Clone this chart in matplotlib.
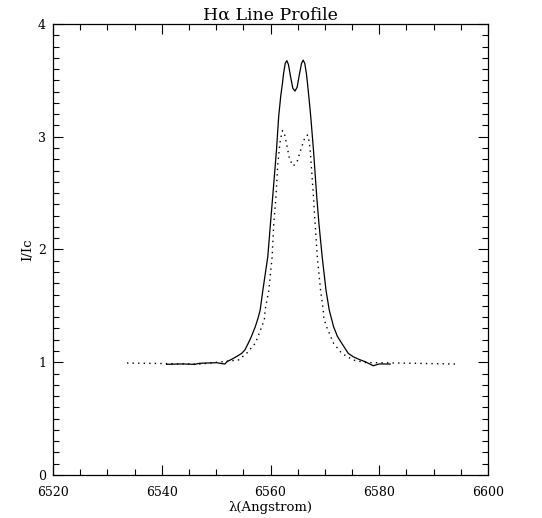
import matplotlib
matplotlib.use("Agg")
import matplotlib.pyplot as plt
from matplotlib.ticker import MultipleLocator

# observed profile (solid)
wave_obs = [6540.9, 6544.0, 6546.0, 6547.0, 6550.1, 6551.6, 6552.0, 6553.0,
            6553.7, 6554.7, 6555.3, 6555.9, 6556.5, 6557.2, 6557.7, 6558.1,
            6558.6, 6559.5, 6560.0, 6560.4, 6561.1, 6561.5, 6561.9, 6562.2,
            6562.4, 6562.7, 6563.0, 6563.3, 6563.7, 6564.1, 6564.5, 6564.9,
            6565.3, 6565.7, 6566.0, 6566.3, 6566.6, 6566.8, 6567.1, 6567.4,
            6567.9, 6568.5, 6568.9, 6569.5, 6570.2, 6570.8, 6571.6, 6572.3,
            6573.1, 6574.3, 6575.2, 6576.3, 6577.4, 6578.9, 6580.0, 6582.0]
flux_obs = [0.982, 0.985, 0.981, 0.991, 0.996, 0.984, 1.005, 1.030,
            1.049, 1.079, 1.110, 1.168, 1.230, 1.315, 1.390, 1.463,
            1.641, 1.936, 2.235, 2.468, 2.882, 3.178, 3.370, 3.474,
            3.560, 3.650, 3.675, 3.640, 3.530, 3.430, 3.405, 3.440,
            3.550, 3.650, 3.680, 3.650, 3.560, 3.474, 3.330, 3.178,
            2.882, 2.468, 2.232, 1.936, 1.641, 1.463, 1.315, 1.230,
            1.168, 1.079, 1.049, 1.025, 1.005, 0.969, 0.985, 0.984]

# model profile (dotted)
wave_mod = [6533.6, 6547.0, 6554.1, 6555.6, 6557.2, 6558.4, 6558.9, 6559.0,
            6559.7, 6560.3, 6560.6, 6561.0, 6561.3, 6561.6, 6561.8, 6562.2,
            6562.5, 6562.9, 6563.5, 6564.2, 6564.9, 6565.6, 6566.3, 6566.8,
            6567.1, 6567.3, 6567.9, 6568.2, 6568.6, 6569.2, 6569.7, 6569.8,
            6570.3, 6571.6, 6573.1, 6575.2, 6577.4, 6594.5]
flux_mod = [0.993, 0.984, 1.020, 1.079, 1.168, 1.315, 1.390, 1.463,
            1.641, 1.936, 2.232, 2.468, 2.734, 2.882, 2.970, 3.054,
            3.040, 2.950, 2.800, 2.741, 2.780, 2.890, 2.990, 3.016,
            2.960, 2.882, 2.468, 2.232, 1.936, 1.641, 1.463, 1.390,
            1.315, 1.168, 1.079, 1.020, 0.998, 0.984]

plt.rcParams['font.family'] = ['DejaVu Serif']

fig = plt.figure(figsize=(5.42, 5.18), dpi=100)
ax = fig.add_axes([0.0978, 0.083, 0.8026, 0.8707])

ax.plot(wave_obs, flux_obs, color='black', linewidth=0.9)
ax.plot(wave_mod, flux_mod, color='black', linewidth=1.0, linestyle=(0, (1, 3)))

ax.set_xlim(6520, 6600)
ax.set_ylim(0, 4)
ax.xaxis.set_major_locator(MultipleLocator(20))
ax.xaxis.set_minor_locator(MultipleLocator(5))
ax.yaxis.set_major_locator(MultipleLocator(1))
ax.yaxis.set_minor_locator(MultipleLocator(0.1))
ax.tick_params(which='both', direction='in', top=True, right=True,
               width=0.8, labelsize=9)
ax.tick_params(which='major', length=7)
ax.tick_params(which='minor', length=4)
ax.tick_params(axis='x', which='major', pad=8)
ax.tick_params(axis='y', which='major', pad=5)
for s in ax.spines.values():
    s.set_linewidth(0.9)

ax.set_title("H\u03b1 Line Profile", fontsize=12.5, pad=2)
ax.set_xlabel("\u03bb(Angstrom)", fontsize=9.5, labelpad=1)
ax.set_ylabel("I/Ic", fontsize=9.5, labelpad=3)

fig.savefig("out.png", dpi=100)
